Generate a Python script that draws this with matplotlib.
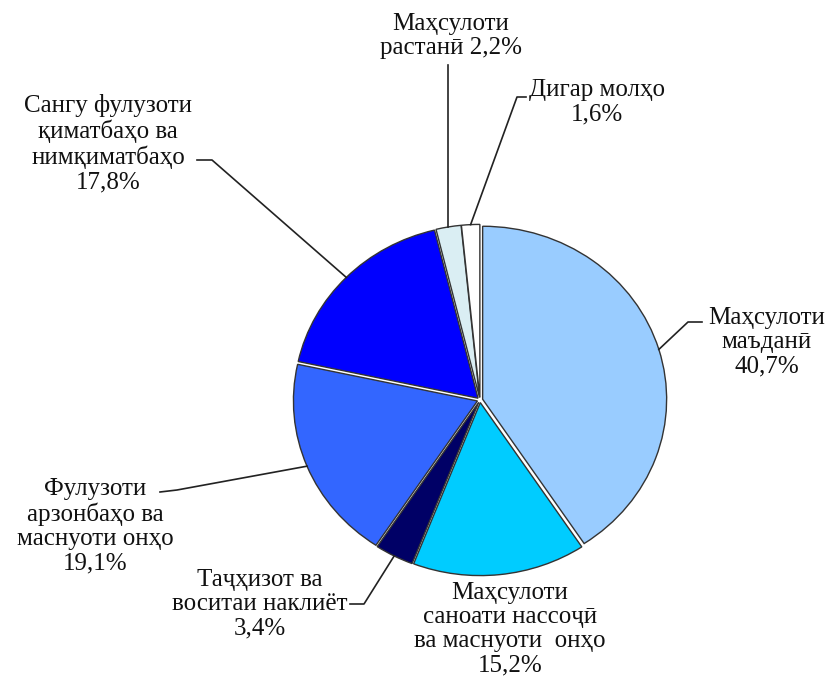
import numpy as np
import matplotlib.pyplot as plt
from matplotlib.lines import Line2D

# -----------------------
# DATA
# -----------------------
labels = [
    "Маҳсулоти\nмаъданӣ\n40,7%",
    "Маҳсулоти\nсаноати нассоҷӣ\nва маснуоти  онҳо\n15,2%",
    "Таҷҳизот ва\nвоситаи наклиёт\n3,4%",
    "Фулузоти\nарзонбаҳо ва\nмаснуоти онҳо\n19,1%",
    "Сангу фулузоти\nқиматбаҳо ва\nнимқиматбаҳо\n17,8%",
    "Маҳсулоти\nрастанӣ 2,2%",
    "Дигар молҳо\n1,6%",
]
shares = [40.7, 15.2, 3.4, 19.1, 17.8, 2.2, 1.6]
colors = ["#99CCFF", "#00CCFF", "#000066", "#3366FF", "#0000FF", "#DAEEF3", "#FFFFFF"]

# -----------------------
# LAYOUT (reference pixels, origin top-left)
# -----------------------
W, H = 836, 677
CX, CY = 480, 400      # pie centre
RX, RY = 184, 173      # pie radii (slightly squashed)

# text block centres
text_pos = [(767, 342), (510, 629), (260, 604), (95, 526),
            (108, 144), (451, 36), (597, 102)]
# leader elbows: points after the wedge point, None = no leader
elbows = [
    [(688, 322), (702, 322)],
    None,
    [(364, 604), (350, 604)],
    [(177, 490), (160, 492)],
    [(212, 160), (197, 160)],
    [("x", 65)],
    [(517, 97), (526, 97)],
]

def fx(px):
    return px / W

def fy(py):
    return 1 - py / H

plt.rcParams['font.family'] = ['Liberation Serif', 'DejaVu Serif']

fig = plt.figure(figsize=(W / 100, H / 100), dpi=100)
ax = fig.add_axes([fx(CX - RX), fy(CY + RY), 2 * RX / W, 2 * RY / H])

wedges, _ = ax.pie(
    shares, colors=colors, startangle=90, counterclock=False,
    explode=[0.015] * len(shares),
    wedgeprops=dict(edgecolor="#333333", linewidth=1.0),
)
ax.set_aspect('auto')
ax.set_xlim(-1, 1)
ax.set_ylim(-1, 1)
ax.axis('off')

fig.canvas.draw()
inv = fig.transFigure.inverted()

for w, lab, tp, el in zip(wedges, labels, text_pos, elbows):
    fig.text(fx(tp[0]), fy(tp[1]), lab, ha='center', va='center',
             fontsize=18, linespacing=1.13, color='#111111')
    if el is None:
        continue
    ang = np.deg2rad((w.theta1 + w.theta2) / 2)
    wx, wy = w.center[0] + np.cos(ang), w.center[1] + np.sin(ang)
    px, py = inv.transform(ax.transData.transform((wx, wy)))
    xs, ys = [px], [py]
    for ex, ey in el:
        xs.append(px if ex == "x" else fx(ex))
        ys.append(fy(ey))
    fig.add_artist(Line2D(xs, ys, color='#222222', linewidth=1.2,
                          transform=fig.transFigure))

fig.savefig("out.png", dpi=100, facecolor='white')
